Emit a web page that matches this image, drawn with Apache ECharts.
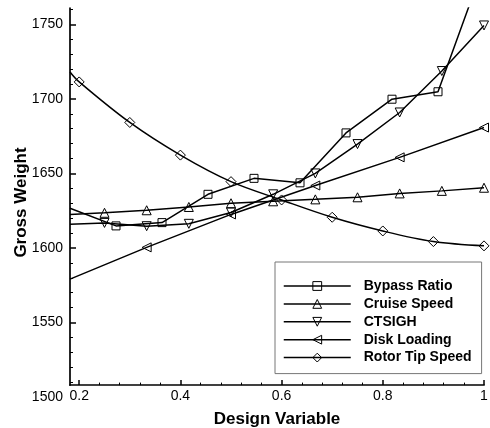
<!DOCTYPE html>
<html><head><meta charset="utf-8">
<script src="https://cdn.jsdelivr.net/npm/echarts@6/dist/echarts.min.js"></script>
<style>html,body{margin:0;padding:0;background:#fff}#c{width:490px;height:428px}</style>
</head><body><div id="c"></div>
<script>
const FONT = '"Liberation Sans", Arial, Helvetica, sans-serif';

// ---- data ----
const seriesNames = ['Bypass Ratio', 'Cruise Speed', 'CTSIGH', 'Disk Loading', 'Rotor Tip Speed'];
const xAxisMin = 2 / 11;
const bypassX = [2/11, 3/11, 4/11, 5/11, 6/11, 7/11, 8/11, 9/11, 10/11, 1];
const bypassY = [1626.6, 1614.8, 1617.0, 1636.0, 1646.7, 1643.7, 1677.2, 1699.8, 1704.8, 1790];
const cruiseX = [2/11, 3/12, 4/12, 5/12, 6/12, 7/12, 8/12, 9/12, 10/12, 11/12, 1];
const cruiseY = [1622.5, 1623.6, 1625.3, 1627.5, 1630.0, 1631.3, 1632.6, 1634.0, 1636.6, 1638.3, 1640.4];
const ctsighX = [2/11, 3/12, 4/12, 5/12, 6/12, 7/12, 8/12, 9/12, 10/12, 11/12, 1];
const ctsighY = [1615.9, 1616.8, 1614.6, 1616.2, 1623.8, 1636.0, 1650.0, 1669.7, 1690.9, 1718.7, 1749.3];
const diskX = [2/11, 4/12, 6/12, 8/12, 10/12, 1];
const diskY = [1579.1, 1600.4, 1622.5, 1641.9, 1660.8, 1680.8];
const rotorX = [2/11, 0.2, 0.3, 0.4, 0.5, 0.6, 0.7, 0.8, 0.9, 1];
const rotorY = [1718.1, 1711.4, 1684.2, 1662.3, 1644.5, 1632.2, 1620.6, 1611.4, 1604.3, 1601.4];

const xTickLabels = [0.2, 0.4, 0.6, 0.8, 1];
const xMinorTicks = [0.24, 0.28, 0.32, 0.36, 0.44, 0.48, 0.52, 0.56, 0.64, 0.68, 0.72, 0.76, 0.84, 0.88, 0.92, 0.96];
const yTickLabels = [1500, 1550, 1600, 1650, 1700, 1750];
const yMajorTicks = [1550, 1600, 1650, 1700, 1750];
const yMinorTicks = [1510, 1520, 1530, 1540, 1560, 1570, 1580, 1590, 1610, 1620, 1630, 1640,
  1660, 1670, 1680, 1690, 1710, 1720, 1730, 1740, 1760];
const yLabelMin = 1500, yLineMin = 1508, yMax = 1761;

// ---- chart ----
function mk(name, xs, ys, symbol, rotate, size, smooth) {
  return {
    name: name, type: 'line', xAxisIndex: 0, yAxisIndex: 0,
    smooth: smooth, symbol: symbol, symbolSize: size, symbolRotate: rotate,
    showAllSymbol: true, clip: true,
    data: xs.map((x, i) => i === 0 ? { value: [x, ys[i]], symbol: 'none' } : [x, ys[i]]),
    lineStyle: { color: '#000', width: 1.5 },
    itemStyle: { color: 'rgba(255,255,255,0)', borderColor: '#000', borderWidth: 1 },
    emphasis: { disabled: true }
  };
}

const chart = echarts.init(document.getElementById('c'), null, { renderer: 'canvas' });
chart.setOption({
  animation: false,
  backgroundColor: '#fff',
  textStyle: { fontFamily: FONT },
  grid: [
    { left: 70, right: 6, top: 8, bottom: 31, containLabel: false, outerBoundsMode: 'none' },
    { left: 70, right: 6, top: 8, bottom: 42.9, containLabel: false, outerBoundsMode: 'none' }
  ],
  xAxis: [
    {
      gridIndex: 0, type: 'value', min: xAxisMin, max: 1, offset: -11.9,
      axisLine: { show: false }, axisLabel: { show: false }, splitLine: { show: false },
      axisTick: { show: true, inside: true, length: 2.5, customValues: xMinorTicks, lineStyle: { color: '#000', width: 1 } }
    },
    {
      gridIndex: 1, type: 'value', min: xAxisMin, max: 1,
      name: 'Design Variable', nameLocation: 'middle', nameGap: 26, nameMoveOverlap: false,
      nameTextStyle: { fontFamily: FONT, fontSize: 17, fontWeight: 'bold', color: '#000' },
      axisLine: { show: true, lineStyle: { color: '#000', width: 1.7 } },
      axisTick: { show: true, inside: true, length: 5, customValues: xTickLabels, lineStyle: { color: '#000', width: 1.5 } },
      axisLabel: { customValues: xTickLabels, margin: 4, fontSize: 14, color: '#000', fontFamily: FONT,
        formatter: v => String(v) },
      splitLine: { show: false }
    }
  ],
  yAxis: [
    {
      gridIndex: 0, type: 'value', min: yLabelMin, max: yMax,
      name: 'Gross Weight', nameLocation: 'middle', nameGap: 40, nameMoveOverlap: false,
      nameTextStyle: { fontFamily: FONT, fontSize: 17, fontWeight: 'bold', color: '#000' },
      axisLine: { show: false },
      axisTick: { show: true, inside: true, length: 3, customValues: yMinorTicks, lineStyle: { color: '#000', width: 1 } },
      axisLabel: { customValues: yTickLabels, margin: 7, fontSize: 14, color: '#000', fontFamily: FONT,
        formatter: v => String(v) },
      splitLine: { show: false }
    },
    {
      gridIndex: 1, type: 'value', min: yLineMin, max: yMax,
      axisLine: { show: true, lineStyle: { color: '#000', width: 1.7 } },
      axisTick: { show: true, inside: true, length: 6, customValues: yMajorTicks, lineStyle: { color: '#000', width: 1.5 } },
      axisLabel: { show: false },
      splitLine: { show: false }
    }
  ],
  legend: {
    orient: 'vertical', left: 275, top: 262,
    padding: [17, 10, 9, 8],
    backgroundColor: '#fff', borderColor: '#777', borderWidth: 1,
    itemWidth: 67, itemHeight: 11, itemGap: 3.9,
    selectedMode: false,
    itemStyle: { color: 'rgba(255,255,255,0)', borderColor: '#000', borderWidth: 1 },
    lineStyle: { color: '#000', width: 1.5 },
    textStyle: { fontFamily: FONT, fontSize: 14, fontWeight: 'bold', color: '#000', lineHeight: 14, padding: [0, 0, 0, 8] },
    data: seriesNames
  },
  series: [
    mk(seriesNames[0], bypassX, bypassY, 'rect', 0, 8, false),
    mk(seriesNames[1], cruiseX, cruiseY, 'triangle', 0, 9, false),
    mk(seriesNames[2], ctsighX, ctsighY, 'triangle', 180, 9, false),
    mk(seriesNames[3], diskX, diskY, 'triangle', 90, 9, false),
    mk(seriesNames[4], rotorX, rotorY, 'diamond', 0, 10, 0.35)
  ]
});
</script>
</body></html>
